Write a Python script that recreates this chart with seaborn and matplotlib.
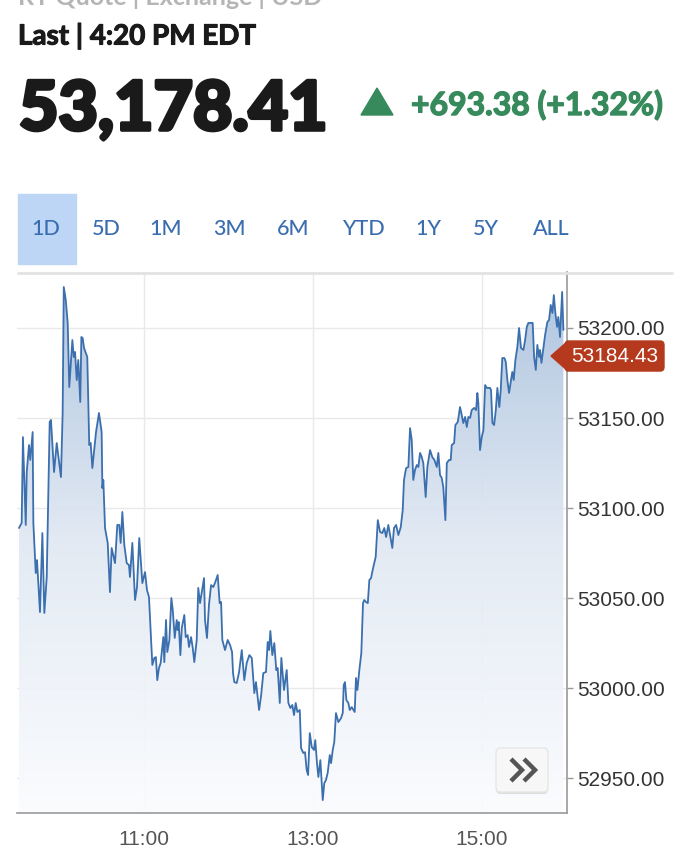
import numpy as np
import pandas as pd
import matplotlib
matplotlib.use("Agg")
import matplotlib.pyplot as plt
import matplotlib.patheffects as pe
import seaborn as sns
from matplotlib.colors import LinearSegmentedColormap
from matplotlib.patches import Polygon, FancyBboxPatch, Rectangle
from matplotlib.lines import Line2D

# ---------------------------------------------------------------------------
# DATA  (intraday quote, minutes after the 9:30 open)
# ---------------------------------------------------------------------------
minutes = [
    1.2, 3.1, 4.0, 6.0, 6.7, 8.3, 9.2, 10.9, 11.4, 13.1,
    14.0, 16.1, 17.8, 19.2, 20.9, 23.0, 23.9, 26.1, 28.0, 31.0,
    32.2, 33.0, 34.4, 35.8, 36.9, 39.1, 40.1, 41.0, 42.2, 43.3,
    44.7, 45.5, 46.4, 47.4, 49.7, 51.1, 52.1, 53.3, 55.9, 58.0,
    59.9, 60.4, 61.1, 62.3, 64.2, 65.8, 67.0, 69.4, 71.0, 72.4,
    73.4, 74.6, 76.0, 77.7, 79.3, 80.0, 81.7, 83.6, 85.0, 86.6,
    88.8, 90.7, 92.1, 93.5, 94.2, 95.9, 97.3, 98.4, 99.4, 100.6,
    101.8, 103.7, 104.4, 105.6, 106.5, 108.0, 109.4, 110.4, 111.8, 113.2,
    113.9, 114.6, 115.8, 116.8, 118.6, 119.6, 121.0, 121.9, 123.4, 124.6,
    125.7, 127.4, 128.5, 129.8, 132.6, 133.3, 134.7, 136.1, 137.6, 139.2,
    140.6, 142.3, 143.7, 144.7, 145.6, 147.5, 149.4, 151.1, 152.5, 153.2,
    154.1, 155.8, 157.5, 159.4, 161.2, 162.9, 164.8, 166.5, 168.3, 169.5,
    171.7, 173.1, 174.7, 176.6, 177.8, 178.8, 179.7, 181.1, 182.5, 183.9,
    184.9, 186.4, 187.5, 189.4, 191.3, 192.5, 193.9, 195.3, 196.5, 197.7,
    198.9, 200.6, 201.5, 203.1, 204.3, 205.5, 206.5, 207.7, 209.1, 210.7,
    211.6, 212.8, 213.8, 215.2, 216.9, 218.0, 219.2, 220.4, 221.9, 222.8,
    224.0, 225.1, 226.3, 228.0, 229.9, 231.1, 231.8, 232.7, 233.7, 235.1,
    236.1, 237.5, 239.6, 240.5, 241.5, 242.9, 244.3, 245.5, 246.4, 247.6,
    248.9, 250.0, 251.2, 252.8, 254.5, 256.0, 257.6, 259.2, 260.6, 261.9,
    263.5, 264.7, 266.3, 267.5, 269.0, 270.6, 272.3, 273.7, 274.6, 276.1,
    277.7, 278.9, 280.1, 281.2, 282.4, 283.7, 284.8, 286.0, 287.2, 288.3,
    290.0, 291.2, 293.1, 294.7, 296.2, 297.9, 299.0, 300.2, 301.4, 302.5,
    304.0, 305.0, 306.6, 307.8, 308.5, 310.2, 311.1, 312.8, 314.4, 315.6,
    316.7, 318.0, 319.2, 320.3, 321.5, 322.7, 324.4, 325.8, 326.7, 327.4,
    328.6, 329.8, 331.0, 332.2, 333.4, 335.7, 336.4, 337.4, 338.6, 339.8,
    340.9, 342.3, 343.3, 344.4, 345.9, 346.9, 348.0, 349.2, 350.4, 351.5,
    352.5, 353.7, 355.1, 356.3, 357.7, 359.4, 360.6, 361.8, 362.9, 364.1,
    366.0, 367.0, 368.2, 369.3, 370.5, 371.2, 372.2, 373.6, 374.8, 376.4,
    377.6, 378.8, 380.0, 381.0, 382.1, 383.3, 384.2, 385.4, 386.9, 387.8,
]
prices = [
    53088.9, 53091.7, 53139.4, 53090.6, 53120.0, 53135.0, 53126.7, 53142.2, 53091.7, 53063.9,
    53071.1, 53042.2, 53086.1, 53041.7, 53061.7, 53147.8, 53148.9, 53120.0, 53136.1, 53117.2,
    53152.8, 53222.8, 53215.6, 53202.8, 53167.2, 53193.3, 53183.9, 53186.7, 53171.1, 53182.2,
    53158.9, 53195.0, 53194.4, 53188.9, 53183.9, 53135.0, 53136.1, 53122.2, 53142.2, 53152.8,
    53142.2, 53111.1, 53115.6, 53088.9, 53080.6, 53053.3, 53077.8, 53069.4, 53090.6, 53090.6,
    53080.6, 53097.8, 53079.4, 53069.4, 53068.3, 53061.7, 53080.6, 53048.9, 53056.1, 53083.3,
    53058.3, 53064.4, 53054.4, 53050.6, 53039.4, 53012.8, 53016.7, 53017.2, 53004.4, 53011.1,
    53013.9, 53028.3, 53014.4, 53037.8, 53020.0, 53026.7, 53050.0, 53043.3, 53027.8, 53037.8,
    53032.2, 53036.7, 53018.3, 53033.3, 53040.6, 53028.3, 53029.4, 53022.8, 53028.3, 53022.2,
    53014.4, 53026.7, 53055.6, 53047.2, 53061.1, 53037.8, 53027.8, 53046.1, 53057.2, 53056.1,
    53058.9, 53062.8, 53047.2, 53047.8, 53026.7, 53021.1, 53026.7, 53023.9, 53020.0, 53008.3,
    53003.3, 53002.8, 53008.9, 53021.1, 53004.4, 53013.9, 53018.3, 53016.7, 52997.2, 53003.3,
    52987.8, 52995.6, 53008.3, 53008.9, 53025.6, 53021.1, 53031.7, 53018.3, 53025.0, 53010.0,
    53011.1, 52991.7, 53016.7, 52998.9, 53010.0, 52991.7, 52988.9, 52990.6, 52985.0, 52991.7,
    52986.7, 52987.8, 52966.7, 52963.9, 52964.4, 52954.4, 52951.7, 52975.0, 52967.2, 52965.6,
    52971.1, 52958.3, 52950.6, 52960.0, 52937.8, 52947.2, 52948.9, 52952.8, 52962.8, 52958.3,
    52965.6, 52970.0, 52986.1, 52981.1, 52983.3, 52986.1, 53001.7, 53003.3, 52993.3, 52991.7,
    52987.8, 52989.4, 52986.7, 53005.6, 52998.9, 53010.0, 53019.4, 53047.2, 53048.9, 53047.8,
    53047.2, 53060.0, 53061.1, 53067.2, 53072.8, 53093.3, 53086.7, 53086.1, 53088.9, 53083.9,
    53090.6, 53085.0, 53077.8, 53088.9, 53090.6, 53085.0, 53089.4, 53098.9, 53115.6, 53122.2,
    53122.8, 53144.4, 53137.8, 53115.6, 53121.1, 53123.9, 53122.8, 53130.6, 53128.3, 53125.0,
    53106.1, 53122.8, 53132.2, 53128.3, 53126.7, 53122.8, 53130.6, 53118.3, 53116.7, 53111.7,
    53093.3, 53125.0, 53126.7, 53126.7, 53135.0, 53136.1, 53146.1, 53147.8, 53156.1, 53151.7,
    53147.2, 53150.6, 53145.0, 53150.6, 53150.0, 53154.4, 53155.6, 53154.4, 53163.9, 53158.3,
    53132.2, 53139.4, 53143.3, 53168.3, 53166.7, 53166.7, 53165.6, 53147.2, 53146.1, 53154.4,
    53166.7, 53156.1, 53165.6, 53183.3, 53183.3, 53181.1, 53171.1, 53163.9, 53170.0, 53175.6,
    53171.1, 53182.2, 53189.4, 53200.0, 53188.9, 53187.8, 53193.3, 53200.6, 53202.8, 53202.8,
    53202.8, 53183.9, 53176.7, 53190.6, 53183.9, 53187.8, 53180.6, 53188.9, 53196.1, 53203.3,
    53204.4, 53212.8, 53208.3, 53218.3, 53208.3, 53200.6, 53206.1, 53195.0, 53220.0, 53198.9,
]

time_ticks = [90, 210, 330]
time_labels = ["11:00", "13:00", "15:00"]
price_ticks = [52950, 53000, 53050, 53100, 53150, 53200]
last_close = 53184.43
headline_price = "53,178.41"
headline_change = "+693.38 (+1.32%)"
range_tabs = ["1D", "5D", "1M", "3M", "6M", "YTD", "1Y", "5Y", "ALL"]

# ---------------------------------------------------------------------------
# LAYOUT (pixel positions on the 696 x 868 canvas)
# ---------------------------------------------------------------------------
W, H = 696, 868
TAB_X = [46, 106, 166, 229, 293, 363, 428, 486, 551]
HEAD_FONT = ["Lato", "DejaVu Sans"]
GREEN = "#378a5c"
INK = "#1a1a1a"


def fx(px):
    return px / W


def fy(py):
    return 1 - py / H


def thick(color, w):
    # fake a heavier weight than the installed font offers
    return [pe.withStroke(linewidth=w, foreground=color)]


sns.set_theme(style="white")
plt.rcParams["font.family"] = ["Liberation Sans", "DejaVu Sans"]

fig = plt.figure(figsize=(W / 100, H / 100), dpi=100)
ax = fig.add_axes([fx(17.3), fy(813), (566.5 - 17.3) / W, (813 - 272) / H])

df = pd.DataFrame({"minute": minutes, "price": prices})
y_lo, y_hi = 52930.6, 53231.1

sns.lineplot(data=df, x="minute", y="price", ax=ax, color="#3b6fae",
             linewidth=1.3, zorder=4)

# gradient area under the line
fill = ax.fill_between(df["minute"], df["price"], y_lo,
                       facecolor="none", edgecolor="none")
cmap = LinearSegmentedColormap.from_list(
    "blue_fade", ["#fbfcfe", "#e1e9f3", "#a7bfdd"])
grad = np.linspace(0, 1, 256).reshape(-1, 1)
img = ax.imshow(grad, cmap=cmap, origin="lower", aspect="auto",
                extent=[0, 390, y_lo, y_hi], zorder=2, alpha=0.93)
img.set_clip_path(fill.get_paths()[0], transform=ax.transData)

ax.set_xlim(0, 390)
ax.set_ylim(y_lo, y_hi)
ax.set_xticks(time_ticks, time_labels)
ax.set_yticks(price_ticks, [f"{v:.2f}" for v in price_ticks])
ax.yaxis.tick_right()
ax.set_xlabel("")
ax.set_ylabel("")
ax.grid(True, color="#e9e9e9", linewidth=1)
ax.set_axisbelow(True)
for s in ["left", "top"]:
    ax.spines[s].set_visible(False)
for s in ["right", "bottom"]:
    ax.spines[s].set_color("#9a9a9a")
    ax.spines[s].set_linewidth(1.2)
ax.tick_params(axis="x", length=7, width=1, color="#9a9a9a", labelsize=15,
               labelcolor="#555555", pad=5)
ax.tick_params(axis="y", length=4, width=1, color="#9a9a9a", labelsize=15,
               labelcolor="#333333", pad=4)

# light rule at the top of the chart panel
fig.add_artist(Line2D([fx(18), fx(672)], [fy(272.5), fy(272.5)],
                      color="#e2e2e2", lw=2))

# ---------------------------------------------------------------------------
# HEADER
# ---------------------------------------------------------------------------
fig.text(fx(18), fy(5), "RT Quote | Exchange | USD", family=HEAD_FONT,
         weight="bold", size=18, color="#b5b5b5", va="baseline")
fig.text(fx(18), fy(44.5), "Last | 4:20 PM EDT", family=HEAD_FONT,
         weight="bold", size=20, color=INK, va="baseline",
         path_effects=thick(INK, 0.8))
fig.text(fx(19), fy(130), headline_price, family=HEAD_FONT,
         weight="black", size=49, color=INK, va="baseline",
         path_effects=thick(INK, 2.6))
fig.add_artist(Polygon([[fx(361), fy(115)], [fx(393), fy(115)], [fx(377), fy(88)]],
                       closed=True, transform=fig.transFigure, color=GREEN))
fig.text(fx(411), fy(115), headline_change, family=HEAD_FONT,
         weight="bold", size=23, color=GREEN, va="baseline",
         path_effects=thick(GREEN, 1.0))

# range tabs
fig.add_artist(Rectangle((fx(18), fy(264)), (75.5 - 18) / W, (264 - 194) / H,
                         transform=fig.transFigure, color="#bed6f6", zorder=0))
for label, x in zip(range_tabs, TAB_X):
    fig.text(fx(x), fy(229), label, ha="center", va="center", family=HEAD_FONT,
             weight="medium", size=15.5, color="#3a6db0")

# ---------------------------------------------------------------------------
# LAST PRICE TAG + SCROLL BUTTON
# ---------------------------------------------------------------------------
_, ty = ax.transData.transform((0, last_close))
tag_y = H - ty
TAG_RED = "#b5391d"
fig.add_artist(FancyBboxPatch((fx(565), fy(tag_y + 15)), (664 - 565) / W, 30 / H,
                              boxstyle="round,pad=0,rounding_size=0.005",
                              transform=fig.transFigure, color=TAG_RED))
fig.add_artist(Polygon([[fx(551), fy(tag_y)], [fx(568), fy(tag_y - 15)],
                        [fx(568), fy(tag_y + 15)]], closed=True,
                       transform=fig.transFigure, color=TAG_RED))
fig.text(fx(615), fy(tag_y), f"{last_close:.2f}", ha="center", va="center",
         size=15, color="white")

fig.add_artist(FancyBboxPatch((fx(496), fy(794)), 52 / W, 44 / H,
                              boxstyle="round,pad=0,rounding_size=0.006",
                              transform=fig.transFigure, facecolor="#dddddd",
                              edgecolor="none"))
fig.add_artist(FancyBboxPatch((fx(496), fy(792)), 52 / W, 44 / H,
                              boxstyle="round,pad=0,rounding_size=0.006",
                              transform=fig.transFigure, facecolor="#f7f7f7",
                              edgecolor="#e6e6e6", lw=1))
for x0 in (511, 524):
    fig.add_artist(Line2D([fx(x0), fx(x0 + 11), fx(x0)],
                          [fy(759), fy(770), fy(781)],
                          color="#555555", lw=3.2, solid_capstyle="butt",
                          solid_joinstyle="miter"))

fig.savefig("out.png", dpi=100)
